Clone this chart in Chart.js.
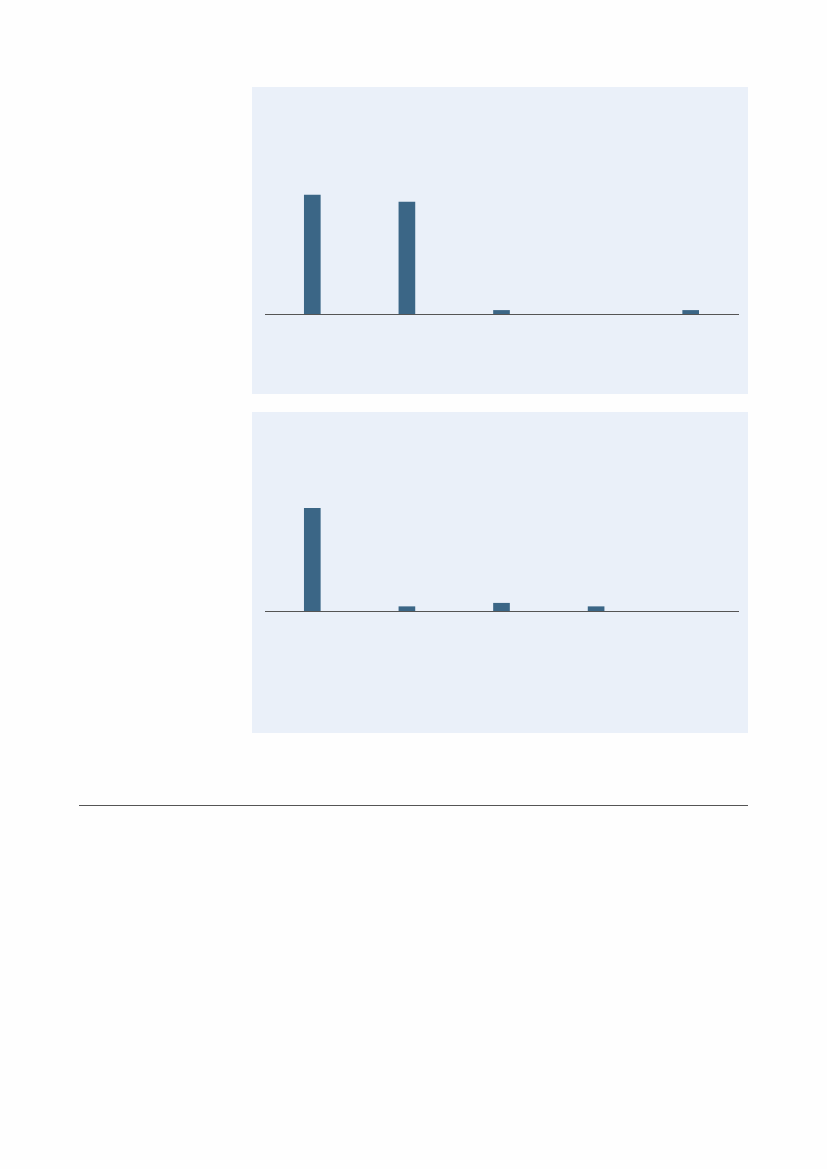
<!DOCTYPE html>
<html>
<head>
<meta charset="utf-8">
<script src="https://cdn.jsdelivr.net/npm/chart.js@4/dist/chart.umd.min.js"></script>
<style>
  body { margin: 0; background: #fefefe; width: 827px; height: 1169px; position: relative; font-family: "DejaVu Sans", sans-serif; }
  .panel { position: absolute; left: 252px; width: 496px; background: #eaf0f9; }
  #p1 { top: 87px; height: 307px; }
  #p2 { top: 412px; height: 321px; }
  .rule { position: absolute; left: 79px; top: 805px; width: 669px; height: 0; border-top: 1.5px solid #555; }
</style>
</head>
<body>
<div class="panel" id="p1"><canvas id="chart1"></canvas></div>
<div class="panel" id="p2"><canvas id="chart2"></canvas></div>
<div class="rule"></div>
<script>
const categories = ["A", "B", "C", "D", "E"];
const topValues = [50, 47, 1.5, 0, 1.5];
const bottomValues = [86, 3.6, 6.5, 3.6, 0];

const barColor = "#3b6686";

function drawChart(id, values, yMax, bottomPad) {
  const ctx = document.getElementById(id).getContext("2d");
  new Chart(ctx, {
    type: "bar",
    data: {
      labels: categories,
      datasets: [{
        data: values,
        // zero values leave no visible mark
        backgroundColor: c => (c.raw === 0 ? "rgba(0,0,0,0)" : barColor),
        borderWidth: 0,
        barThickness: 16
      }]
    },
    options: {
      responsive: true,
      maintainAspectRatio: false,
      animation: false,
      layout: { padding: { left: 13, right: 10, top: 20, bottom: bottomPad } },
      plugins: { legend: { display: false }, tooltip: { enabled: false } },
      scales: {
        x: {
          grid: { display: false },
          ticks: { display: false },
          border: { display: true, color: "#555", width: 1 }
        },
        y: { display: false, min: 0, max: yMax }
      }
    }
  });
}

drawChart("chart1", topValues, 87, 72);
drawChart("chart2", bottomValues, 150, 114);
</script>
</body>
</html>
